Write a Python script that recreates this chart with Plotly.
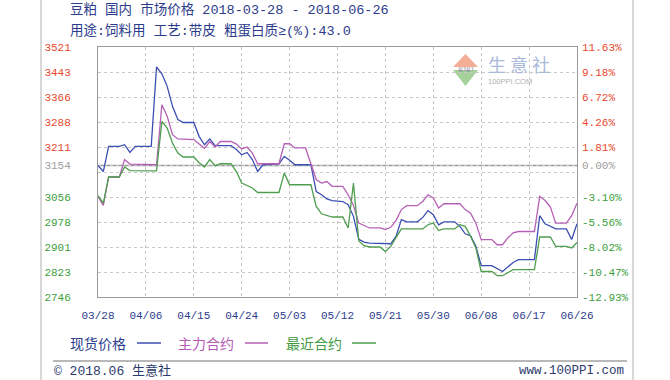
import pandas as pd
import plotly.graph_objects as go

# ---------------- data ----------------
start_date = "2018-03-28"
base_price = 3154

spot_days = [0, 1, 2, 4, 5, 6, 7, 10, 11, 12, 13, 14, 15, 16, 18, 19, 20, 21, 22, 25, 26, 27, 28, 29, 30, 31,
             34, 35, 36, 37, 40, 41, 42, 43, 44, 46, 47, 48, 49, 50, 51, 55, 56, 57, 58, 60, 61, 62, 63, 64, 65,
             67, 68, 69, 70, 71, 72, 74, 76, 77, 78, 79, 82, 83, 84, 86, 88, 89, 90]
spot_vals = [3154, 3135, 3213, 3213, 3218, 3194, 3213, 3213, 3459, 3438, 3399, 3337, 3296, 3287, 3287, 3244,
             3218, 3236, 3215, 3215, 3203, 3187, 3194, 3172, 3135, 3156, 3159, 3182, 3170, 3156, 3156, 3073,
             3063, 3050, 3045, 3042, 3032, 2996, 2925, 2916, 2913, 2911, 2934, 2986, 2979, 2979, 2992, 3014,
             3001, 2970, 2979, 2979, 2965, 2942, 2936, 2903, 2843, 2843, 2825, 2839, 2853, 2862, 2862, 2998,
             2973, 2957, 2957, 2924, 2973]

main_days = [0, 1, 2, 4, 5, 6, 11, 12, 13, 14, 15, 18, 20, 21, 22, 23, 25, 26, 27, 28, 29, 30, 34, 35, 36, 37,
             39, 40, 41, 42, 43, 44, 46, 47, 48, 49, 51, 53, 54, 55, 56, 57, 58, 60, 61, 62, 63, 64, 65, 68, 69,
             70, 71, 72, 74, 75, 76, 77, 78, 79, 82, 83, 84, 85, 86, 88, 89, 90]
main_vals = [3058, 3030, 3118, 3118, 3172, 3158, 3156, 3342, 3306, 3249, 3236, 3234, 3207, 3228, 3211, 3228,
             3228, 3220, 3205, 3211, 3192, 3159, 3159, 3221, 3221, 3208, 3208, 3161, 3110, 3099, 3104, 3089,
             3089, 3063, 3030, 2975, 2960, 2960, 2955, 2962, 2983, 3017, 3029, 3029, 3042, 3063, 3053, 3022,
             3035, 3035, 3017, 3006, 2975, 2924, 2924, 2908, 2908, 2929, 2945, 2949, 2949, 3058, 3045, 3025,
             2975, 2975, 2998, 3037]

near_days = [0, 1, 2, 4, 5, 6, 11, 12, 13, 14, 15, 16, 18, 19, 20, 21, 22, 23, 25, 26, 27, 29, 30, 34, 35, 36,
             40, 41, 42, 43, 44, 46, 47, 48, 49, 50, 51, 53, 54, 55, 57, 61, 62, 63, 64, 65, 67, 68, 69, 70, 71,
             72, 74, 75, 76, 78, 82, 83, 85, 86, 88, 89, 90]
near_vals = [3060, 3037, 3118, 3118, 3149, 3138, 3137, 3290, 3270, 3223, 3192, 3180, 3180, 3162, 3149, 3172,
             3153, 3159, 3159, 3135, 3099, 3084, 3070, 3070, 3130, 3094, 3094, 3027, 3004, 2998, 2994, 2994,
             2960, 3099, 2920, 2905, 2901, 2901, 2887, 2903, 2957, 2957, 2970, 2975, 2952, 2957, 2957, 2970,
             2965, 2934, 2898, 2825, 2825, 2812, 2812, 2831, 2831, 2932, 2932, 2903, 2903, 2898, 2915]

series_names = ["现货价格", "主力合约", "最近合约"]

y_ticks = [3521, 3443.5, 3366, 3288.5, 3211, 3154, 3133.5, 3056, 2978.5, 2901, 2823.5, 2746]
y_left_labels = ["3521", "3443", "3366", "3288", "3211", "3154", "", "3056", "2978", "2901", "2823", "2746"]
y_right_labels = ["11.63%", "9.18%", "6.72%", "4.26%", "1.81%", "0.00%", "", "-3.10%", "-5.56%", "-8.02%",
                  "-10.47%", "-12.93%"]
x_start, x_end = "2018-03-28", "2018-06-26"

title1 = "豆粕 国内 市场价格 2018-03-28 - 2018-06-26"
title2 = "用途:饲料用 工艺:带皮 粗蛋白质≥(%):43.0"
footer_left = "© 2018.06 生意社"
footer_right = "www.100PPI.com"

# ---------------- styling ----------------
W, H = 670, 380
L, R, T, B = 98, 577, 47, 297
PW, PH = R - L, B - T
MONO = "Liberation Mono, Noto Sans CJK SC, monospace"
CJK = "Noto Sans CJK SC, Liberation Mono, sans-serif"
BLUE, PURPLE, GREEN = "#3b4fb3", "#b55fb5", "#4f9e4f"
TXT_BLUE, TXT_PURPLE, TXT_GREEN = "#2c3c8c", "#b45ab4", "#3f9a3f"
RED_LBL, GREEN_LBL, GRAY_LBL = "#e9482c", "#3da03d", "#a0a0a0"


def px(x):
    return (x - L) / PW


def py(y):
    return (B - y) / PH


def to_dates(days):
    return pd.Timestamp(start_date) + pd.to_timedelta(days, unit="D")


def color_for(v):
    if v > base_price:
        return RED_LBL
    if v < base_price:
        return GREEN_LBL
    return GRAY_LBL


left_text = [f'<span style="color:{color_for(v)}">{t}</span>' for v, t in zip(y_ticks, y_left_labels)]
right_text = [f'<span style="color:{color_for(v)}">{t}</span>' for v, t in zip(y_ticks, y_right_labels)]

fig = go.Figure()
for days, vals, name, col in [(spot_days, spot_vals, series_names[0], BLUE),
                              (main_days, main_vals, series_names[1], PURPLE),
                              (near_days, near_vals, series_names[2], GREEN)]:
    fig.add_trace(go.Scatter(x=to_dates(days), y=vals, mode="lines", name=name,
                             line=dict(color=col, width=1.3), showlegend=False))
# invisible trace to anchor the right axis
fig.add_trace(go.Scatter(x=to_dates(spot_days), y=spot_vals, yaxis="y2", mode="lines",
                         line=dict(width=0), opacity=0, showlegend=False, hoverinfo="skip"))

fig.update_layout(
    width=W, height=H,
    margin=dict(l=L, r=W - R, t=T, b=H - B, autoexpand=False),
    paper_bgcolor="white", plot_bgcolor="white",
    showlegend=False,
    xaxis=dict(type="date", range=[x_start, x_end], tick0=x_start, dtick=9 * 86400000,
               tickformat="%m/%d", showgrid=True, gridcolor="#c8c8c8", griddash="dot", gridwidth=1,
               showline=True, linecolor="#9a9a9a", linewidth=1, mirror=True, ticks="",
               tickfont=dict(family=MONO, size=11, color=TXT_BLUE), ticklabelstandoff=8,
               zeroline=False, automargin=False),
    yaxis=dict(range=[2746, 3521], tickvals=y_ticks, ticktext=left_text, showgrid=True,
               gridcolor="#c8c8c8", griddash="dot", gridwidth=1, showline=True, linecolor="#9a9a9a",
               linewidth=1, mirror=True, ticks="", zeroline=False, automargin=False,
               tickfont=dict(family=MONO, size=11), ticklabelstandoff=24),
    yaxis2=dict(range=[2746, 3521], overlaying="y", side="right", tickvals=y_ticks, ticktext=right_text,
                showgrid=False, zeroline=False, ticks="", showline=False, automargin=False,
                tickfont=dict(family=MONO, size=11), ticklabelstandoff=4),
)

shapes = []
# base price (0.00%) line
shapes.append(dict(type="line", xref="paper", yref="y", x0=0, x1=1, y0=base_price, y1=base_price,
                   line=dict(color="#9a9a9a", width=1.5), layer="below"))
# page frame
for fx in (41, 633):
    shapes.append(dict(type="line", xref="paper", yref="paper", x0=px(fx), x1=px(fx), y0=py(0), y1=py(H),
                       line=dict(color="#b0b0b0", width=1)))
# footer rule
shapes.append(dict(type="line", xref="paper", yref="paper", x0=px(53), x1=px(627), y0=py(361), y1=py(361),
                   line=dict(color="#b8b8b8", width=2)))
# legend line samples
for x0, x1, col in [(137, 161, BLUE), (245, 268, PURPLE), (352, 376, GREEN)]:
    shapes.append(dict(type="line", xref="paper", yref="paper", x0=px(x0), x1=px(x1), y0=py(343), y1=py(343),
                       line=dict(color=col, width=1.5)))
# watermark logo triangles
shapes.append(dict(type="path", xref="paper", yref="paper",
                   path=f"M {px(453)} {py(67)} L {px(465.5)} {py(54)} L {px(478)} {py(67)} Z",
                   fillcolor="#f5ae95", line=dict(width=0), layer="below"))
shapes.append(dict(type="path", xref="paper", yref="paper",
                   path=f"M {px(453)} {py(70)} L {px(465.5)} {py(86)} L {px(478)} {py(70)} Z",
                   fillcolor="#a6d19a", line=dict(width=0), layer="below"))
fig.update_layout(shapes=shapes)

ann = []


def add_text(x, y, text, size, color, family=CJK, anchor="left"):
    ann.append(dict(xref="paper", yref="paper", x=px(x), y=py(y), text=text, showarrow=False,
                    xanchor=anchor, yanchor="middle", font=dict(family=family, size=size, color=color)))


add_text(68, 9, title1, 13.5, TXT_BLUE, family=MONO)
add_text(68, 31, title2, 13.5, TXT_BLUE, family=MONO)
add_text(68, 343, series_names[0], 14, TXT_BLUE)
add_text(176, 343, series_names[1], 14, TXT_PURPLE)
add_text(284, 343, series_names[2], 14, TXT_GREEN)
add_text(52, 371, footer_left, 13, "#2d3a6e", family=MONO)
add_text(626, 371, footer_right, 12.5, "#2d3a6e", family=MONO, anchor="right")
# watermark text
add_text(486, 64, "生 意 社", 18, "#aab9d8")
add_text(486, 81, "100PPI.COM", 7.5, "#b0b0b0", family="Liberation Sans, sans-serif")
add_text(465.5, 68.5, "易3易3", 5, "#7a7a9a", anchor="center")
fig.update_layout(annotations=ann)

fig.write_html("out.html", config={"displayModeBar": False},
               post_script="document.body.style.margin='0';document.body.style.overflow='hidden';")
